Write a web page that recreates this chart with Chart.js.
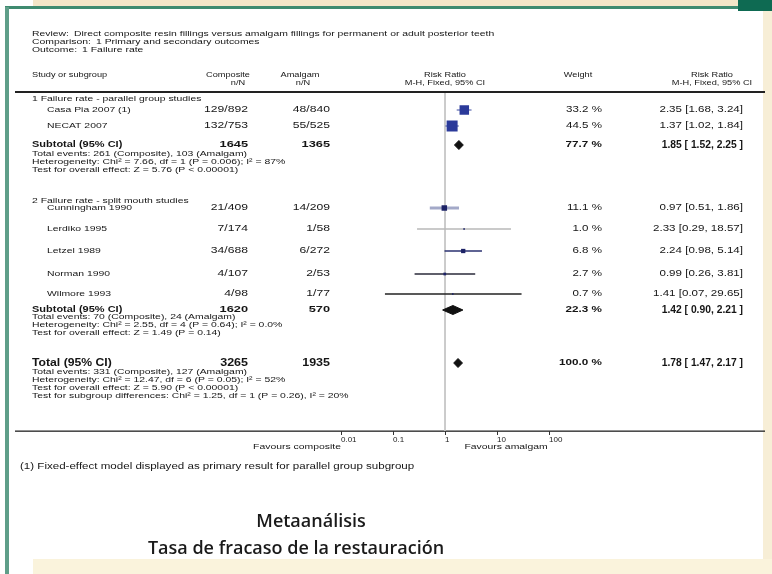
<!DOCTYPE html>
<html><head><meta charset="utf-8">
<script src="https://cdn.jsdelivr.net/npm/chart.js@4.4.0/dist/chart.umd.min.js"></script>
<style>html,body{margin:0;padding:0;background:#fff;overflow:hidden}#wrap{width:772px;height:574px}</style>
</head><body><div id="wrap"><canvas id="c" width="772" height="574"></canvas></div>
<script>
// ---------------- DATA ----------------
const studies = ["Casa Pia 2007 (1)","NECAT 2007","Cunningham 1990","Lerdiko 1995","Letzel 1989","Norman 1990","Wilmore 1993"];
const subgroupOf = [0,0,1,1,1,1,1];
const compositeNN = ["129/892","132/753","21/409","7/174","34/688","4/107","4/98"];
const amalgamNN = ["48/840","55/525","14/209","1/58","6/272","2/53","1/77"];
const weights = [33.2,44.5,11.1,1.0,6.8,2.7,0.7];
const rr = [2.35,1.37,0.97,2.33,2.24,0.99,1.41];
const ciLow = [1.68,1.02,0.51,0.29,0.98,0.26,0.07];
const ciHigh = [3.24,1.84,1.86,18.57,5.14,3.81,29.65];

const subgroupLabels = ["1 Failure rate - parallel group studies","2 Failure rate - split mouth studies"];
const subtotalComposite = ["1645","1620"];
const subtotalAmalgam = ["1365","570"];
const subtotalWeight = [77.7,22.3];
const subtotalRR = [1.85,1.42];
const subtotalLow = [1.52,0.90];
const subtotalHigh = [2.25,2.21];
const subtotalStats = [
  ["Total events: 261 (Composite), 103 (Amalgam)",
   "Heterogeneity: Chi² = 7.66, df = 1 (P = 0.006); I² = 87%",
   "Test for overall effect: Z = 5.76 (P < 0.00001)"],
  ["Total events: 70 (Composite), 24 (Amalgam)",
   "Heterogeneity: Chi² = 2.55, df = 4 (P = 0.64); I² = 0.0%",
   "Test for overall effect: Z = 1.49 (P = 0.14)"]
];
const totalComposite = "3265";
const totalAmalgam = "1935";
const totalWeight = 100.0;
const totalRR = 1.78, totalLow = 1.47, totalHigh = 2.17;
const totalStats = [
  "Total events: 331 (Composite), 127 (Amalgam)",
  "Heterogeneity: Chi² = 12.47, df = 6 (P = 0.05); I² = 52%",
  "Test for overall effect: Z = 5.90 (P < 0.00001)",
  "Test for subgroup differences: Chi² = 1.25, df = 1 (P = 0.26), I² = 20%"
];
const xTicks = [0.01,0.1,1,10,100];
const xTickLabels = ["0.01","0.1","1","10","100"];

const headerLines = [
  ["Review:","Direct composite resin fillings versus amalgam fillings for permanent or adult posterior teeth"],
  ["Comparison:","1 Primary and secondary outcomes"],
  ["Outcome:","1 Failure rate"]
];
const favoursLeft = "Favours composite";
const favoursRight = "Favours amalgam";
const footnote = "(1) Fixed-effect model displayed as primary result for parallel group subgroup";
const title1 = "Metaanálisis";
const title2 = "Tasa de fracaso de la restauración";

// ---------------- LAYOUT (page rows) ----------------
const STUDY_Y = [110,126,208,229,251,274,294];
const GROUP_Y = [99,201];
const SUBTOTAL_Y = [145,310];
const SUBSTATS_Y = [154,317];
const TOTAL_Y = 363;
const TOTALSTATS_Y = 372;
const LINE_STEP = 8;
const PLOT_TOP = 93, PLOT_BOTTOM = 431;
const DIAMOND_H = 4.5;

const FONT = "'Liberation Sans', Arial, sans-serif";
const sqColor = (i) => subgroupOf[i] === 0 ? '#2b3a9a' : '#1c2266';
const lineColors = ['#3a4aa0','#3a4aa0','#a3a9c8','#b8b8b8','#2a3070','#2a2a3a','#222'];
const lineWidths = [1,1,3,1.5,1.6,1.5,1.3];
const squareSide = (w) => Math.max(1.6, 11 * Math.sqrt(w / 44.5));

// ---------------- DATASETS ----------------
const datasets = [];
datasets.push({
  label:'studies', order:0,
  data: studies.map((s,i)=>({x:rr[i], y:STUDY_Y[i]})),
  pointStyle:'rect',
  pointRadius: (c)=> squareSide(weights[c.dataIndex]) / Math.SQRT2,
  pointHoverRadius: (c)=> squareSide(weights[c.dataIndex]) / Math.SQRT2,
  backgroundColor: studies.map((s,i)=>sqColor(i)),
  borderWidth:0, showLine:false
});
studies.forEach((s,i)=>{
  datasets.push({
    label:'ci'+i, order:2, showLine:true, pointRadius:0, fill:false,
    borderColor: lineColors[i], borderWidth: lineWidths[i],
    data:[{x:ciLow[i], y:STUDY_Y[i]},{x:ciHigh[i], y:STUDY_Y[i]}]
  });
});
function diamond(est, lo, hi, y){
  return [{x:lo,y:y},{x:est,y:y-DIAMOND_H},{x:hi,y:y},{x:est,y:y+DIAMOND_H},{x:lo,y:y}];
}
subtotalRR.forEach((v,g)=>{
  datasets.push({label:'sub'+g, order:1, showLine:true, pointRadius:0, tension:0,
    borderColor:'#111', backgroundColor:'#111', borderWidth:1, fill:'shape',
    data: diamond(v, subtotalLow[g], subtotalHigh[g], SUBTOTAL_Y[g])});
});
datasets.push({label:'total', order:1, showLine:true, pointRadius:0, tension:0,
  borderColor:'#111', backgroundColor:'#111', borderWidth:1, fill:'shape',
  data: diamond(totalRR, totalLow, totalHigh, TOTAL_Y)});
datasets.push({label:'null', order:3, showLine:true, pointRadius:0,
  borderColor:'#c4c4c4', borderWidth:1,
  data:[{x:1,y:PLOT_TOP},{x:1,y:PLOT_BOTTOM}]});

// ---------------- PLUGINS ----------------
const fmtW = (w)=> w.toFixed(1) + ' %';
const fmtCI = (e,l,h)=> e.toFixed(2)+' ['+l.toFixed(2)+', '+h.toFixed(2)+']';
const fmtCIb = (e,l,h)=> e.toFixed(2)+' [ '+l.toFixed(2)+', '+h.toFixed(2)+' ]';

const bgPlugin = {
  id:'bg',
  beforeDraw(chart){
    const c = chart.ctx;
    c.save();
    c.fillStyle='#ffffff'; c.fillRect(0,0,772,574);
    c.fillStyle='#f4e6c8'; c.fillRect(33,0,706,6);
    c.fillStyle='#3f8b70'; c.fillRect(5,6,735,3);
    c.fillStyle='#0e6a52'; c.fillRect(738,0,34,11);
    c.fillStyle='#f7eed6'; c.fillRect(763,11,9,563);
    c.fillStyle='#faf3dc'; c.fillRect(33,559,739,15);
    c.fillStyle='#5f9e89'; c.fillRect(5,7,4,567);
    c.fillStyle='#222';
    c.fillRect(15,91,750,2);
    c.fillRect(15,430.5,750,1.3);
    c.restore();
  }
};

const textPlugin = {
  id:'texts',
  afterDraw(chart){
    const c = chart.ctx;
    const y = chart.scales.y;
    const Y = (v)=> y.getPixelForValue(v);
    const P = {font:'8px '+FONT, sx:1.3};
    const N = {font:'8.4px '+FONT, sx:1.45};
    const R = {font:'8.4px '+FONT, sx:1.38};
    const B = {font:'bold 9px '+FONT, sx:1.22};
    const BN = {font:'bold 9px '+FONT, sx:1.42};
    const BR = {font:'bold 10px '+FONT, sx:1.03};
    const BW = {font:'bold 9px '+FONT, sx:1.3};
    const H = {font:'8px '+FONT, sx:1.15};
    c.save();
    c.fillStyle='#151515';
    c.textBaseline='middle';
    const T = (t,x,yy,align,st)=>{
      c.font=st.font; c.textAlign=align||'left';
      c.save(); c.translate(x,yy); c.scale(st.sx,1); c.fillText(t,0,0); c.restore();
      return c.measureText(t).width*st.sx;
    };
    headerLines.forEach((h,i)=>{
      const w = T(h[0],32,34+i*8,'left',P);
      T(h[1],Math.max(70, 32+w+5),34+i*8,'left',P);
    });
    T('Study or subgroup',32,75,'left',H);
    T('Composite',228,75,'center',H); T('n/N',238,83,'center',H);
    T('Amalgam',300,75,'center',H); T('n/N',303,83,'center',H);
    T('Risk Ratio',445,75,'center',H); T('M-H, Fixed, 95% CI',445,83,'center',H);
    T('Weight',578,75,'center',H);
    T('Risk Ratio',712,75,'center',H); T('M-H, Fixed, 95% CI',712,83,'center',H);
    subgroupLabels.forEach((lab,g)=>{
      T(lab,32,GROUP_Y[g],'left',P);
      studies.forEach((s,i)=>{
        if(subgroupOf[i]!==g) return;
        const yy = Y(STUDY_Y[i]);
        T(s,47,yy,'left',P);
        T(compositeNN[i],248,yy,'right',N);
        T(amalgamNN[i],330,yy,'right',N);
        T(fmtW(weights[i]),602,yy,'right',R);
        T(fmtCI(rr[i],ciLow[i],ciHigh[i]),743,yy,'right',R);
      });
      const sy = Y(SUBTOTAL_Y[g]);
      T('Subtotal (95% CI)',32,sy,'left',B);
      T(subtotalComposite[g],248,sy,'right',BN);
      T(subtotalAmalgam[g],330,sy,'right',BN);
      T(fmtW(subtotalWeight[g]),602,sy,'right',BW);
      T(fmtCIb(subtotalRR[g],subtotalLow[g],subtotalHigh[g]),743,sy,'right',BR);
      subtotalStats[g].forEach((t,k)=>T(t,32,SUBSTATS_Y[g]+k*LINE_STEP,'left',P));
    });
    const ty = Y(TOTAL_Y);
    const TB = {font:'bold 10px '+FONT, sx:1.22};
    const TN = {font:'bold 10px '+FONT, sx:1.25};
    T('Total (95% CI)',32,ty,'left',TB);
    T(totalComposite,248,ty,'right',TN);
    T(totalAmalgam,330,ty,'right',TN);
    T(fmtW(totalWeight),602,ty,'right',BW);
    T(fmtCIb(totalRR,totalLow,totalHigh),743,ty,'right',BR);
    totalStats.forEach((t,k)=>T(t,32,TOTALSTATS_Y+k*LINE_STEP,'left',P));
    T(favoursLeft,297,447,'center',{font:'8px '+FONT, sx:1.3});
    T(favoursRight,506,447,'center',{font:'8px '+FONT, sx:1.3});
    T(footnote,20,467,'left',{font:'8.4px '+FONT, sx:1.38});
    c.fillStyle='#1a1a1a';
    T(title1,311,522,'center',{font:'600 18px "Open Sans", sans-serif', sx:1});
    T(title2,296,549,'center',{font:'600 18px "Open Sans", sans-serif', sx:1});
    c.restore();
  }
};

new Chart(document.getElementById('c'), {
  type:'scatter',
  data:{datasets},
  options:{
    responsive:false, animation:false, devicePixelRatio:1,
    layout:{padding:{left:341,right:223,top:93,bottom:113}},
    plugins:{legend:{display:false},tooltip:{enabled:false}},
    scales:{
      x:{type:'logarithmic', min:0.01, max:100, position:'bottom',
        afterBuildTicks:(s)=>{ s.ticks = xTicks.map(v=>({value:v})); },
        afterFit:(s)=>{ s.height = 30; },
        ticks:{callback:(v,i)=>xTickLabels[i], align:'start', autoSkip:false, maxRotation:0,
          font:{size:8,family:FONT}, color:'#222', padding:0},
        grid:{drawOnChartArea:false, tickLength:4, color:'#333'},
        border:{display:false}
      },
      y:{type:'linear', min:PLOT_TOP, max:PLOT_BOTTOM, reverse:true, display:false}
    }
  },
  plugins:[bgPlugin,textPlugin]
});
</script>
</body></html>
